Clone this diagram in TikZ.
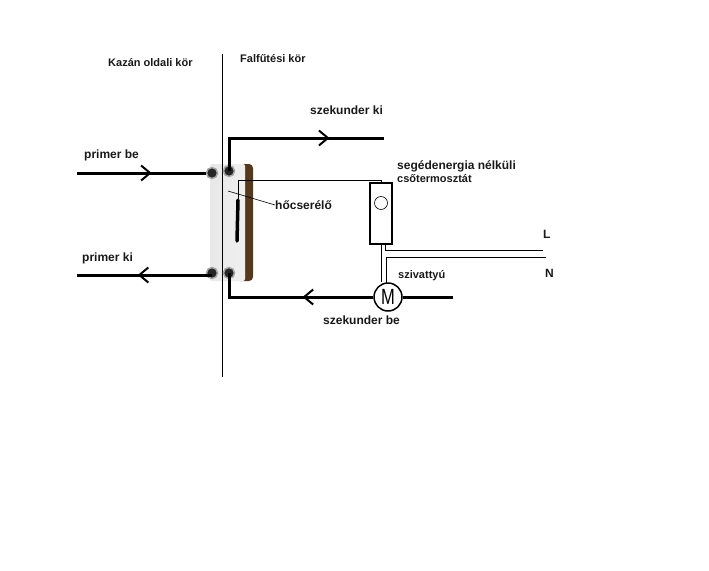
\documentclass[tikz,border=0pt]{standalone}
\usepackage{fontspec}
\setmainfont{Liberation Sans}
\usetikzlibrary{arrows.meta, positioning, calc, decorations.markings}

\begin{document}
\begin{tikzpicture}[
  x=1pt, y=-1pt,
  lbl/.style={font=\fontsize{12}{13}\selectfont\bfseries, inner sep=0pt, anchor=west, align=left, text=black!90},
  head/.style={lbl, font=\fontsize{11}{13}\selectfont\bfseries},
  pipe/.style={draw=black, line width=3pt},
  wire/.style={draw=black, line width=0.9pt},
  port/.style={circle, fill=black!85, draw=black!35, line width=1.5pt, inner sep=0pt, minimum size=11pt},
  pt/.style={inner sep=0pt, outer sep=0pt, minimum size=0pt},
  flow/.style={postaction={decorate}, decoration={markings, mark=at position #1 with {\arrow[line width=2pt]{Straight Barb[length=9pt, width=15pt]}}}}
]
\useasboundingbox (0,0) rectangle (709,570);
% plate heat exchanger
\fill[brown!45!black, rounded corners=4pt] (236,164) rectangle (253,281);
\shade[left color=black!9, middle color=white, right color=black!6, rounded corners=2pt] (210,164) rectangle (245,281);
% divider
\node[pt] (top) at (222,54) {};
\node[pt] (bot) at (222,377) {};
\draw[wire] (top) -- (bot);
% ports
\node[port] (p1) at (212,173) {};
\node[port] (p2) at (229,171) {};
\node[port] (p3) at (212,273) {};
\node[port] (p4) at (229,273) {};
% thermostat and pump
\node[draw, line width=1.4pt, minimum width=22pt, minimum height=61pt, inner sep=0pt] (stat) at (381,213.5) {};
\node[draw, circle, line width=0.6pt, minimum size=13pt, inner sep=0pt] (dial) at (381,203) {};
\node[draw, circle, line width=1.5pt, minimum size=28pt, inner sep=0pt, font=\fontsize{22}{22}\selectfont] (pump) at (388,297) {\scalebox{.75}[1]{M}};
% free ends
\node[pt] (pbe) at (77,173) {};
\node[pt] (pki) at (77,275) {};
\node[pt] (ski) at (384,138) {};
\node[pt] (pout) at (453,297) {};
\node[pt] (bulb) at (238,200) {};
\node[pt] (bulbe) at (237,241) {};
\node[pt] (lend) at (543,250) {};
\node[pt] (nend) at (546,257) {};
\node[pt] (lead) at (228,191) {};
% pipes
\draw[pipe, flow=0.58] (pbe) -- (p1);
\draw[pipe, flow=0.55] (p3 |- pki) -- (pki);
\draw[pipe, flow=0.71] (p2.center) -- (p2 |- ski) -- (ski);
\draw[pipe, flow=0.42] (pump) -- (p4 |- pump) -- (p4.center);
\draw[pipe] (pump) -- (pout);
\draw[pipe, line width=3.5pt, line cap=round] (bulb) -- (bulbe);
% capillary and wires
\draw[wire] (bulb) -- (238,180) -| (stat.north);
\draw[wire] (stat.south) -- (stat.south |- pump.north);
\draw[wire] (385,244.5) |- (lend);
\draw[wire] (nend) -| (386,284);
% labels
\node[head] at (108,63) {Kazán oldali kör};
\node[head] at (240,59) {Falfűtési kör};
\node[lbl] at (310,110) {szekunder ki};
\node[lbl] at (84,155) {primer be};
\node[lbl] at (82,258) {primer ki};
\node[lbl] (hocs) at (275,205) {hőcserélő};
\draw[wire, line width=0.6pt] (lead) -- (hocs.west);
\node[lbl] at (397,166) {segédenergia nélküli};
\node[head] at (397,179) {csőtermosztát};
\node[head] at (398,276) {szivattyú};
\node[lbl] at (323,320) {szekunder be};
\node[lbl] at (543,234) {L};
\node[lbl] at (545,273) {N};
\end{tikzpicture}
\end{document}
